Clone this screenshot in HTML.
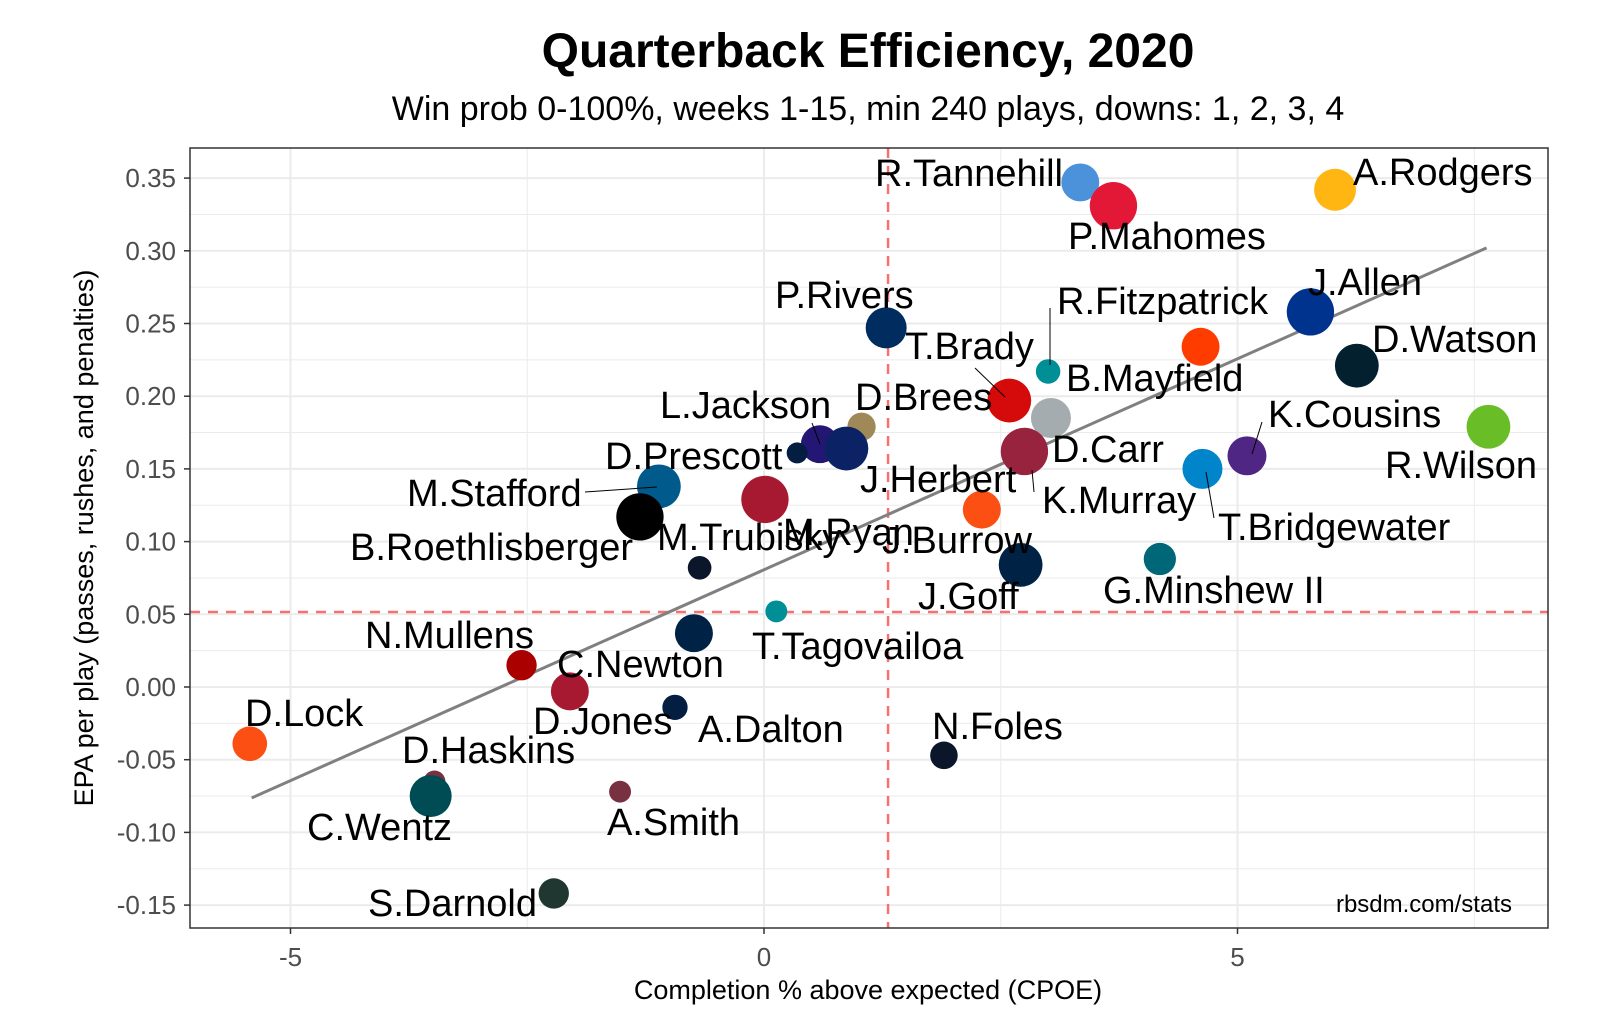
<!DOCTYPE html>
<html><head><meta charset="utf-8"><style>
html,body{margin:0;padding:0;background:#fff;}
svg{display:block;font-family:"Liberation Sans",sans-serif;}
</style></head><body>
<svg id="chart" width="1600" height="1033" viewBox="0 0 1600 1033">
<text x="868" y="67" text-anchor="middle" font-size="48" font-weight="bold" fill="#000">Quarterback Efficiency, 2020</text>
<text x="868" y="120" text-anchor="middle" font-size="34" fill="#000">Win prob 0-100%, weeks 1-15, min 240 plays, downs: 1, 2, 3, 4</text>
<g id="grid"></g>
<g id="refs"></g>
<g id="marks"></g>
<g id="labels"></g>
<rect x="190" y="148" width="1358" height="780" fill="none" stroke="#333" stroke-width="1.5"/>
<g id="axes"></g>
<text x="1512" y="912" text-anchor="end" font-size="24" fill="#000">rbsdm.com/stats</text>
<text x="868" y="999" text-anchor="middle" font-size="27" fill="#000">Completion % above expected (CPOE)</text>
<text transform="translate(93,538) rotate(-90)" text-anchor="middle" font-size="27" fill="#000">EPA per play (passes, rushes, and penalties)</text>
</svg>
<script>
const players=["R.Tannehill","P.Mahomes","A.Rodgers","J.Allen","D.Watson","B.Mayfield","R.Fitzpatrick","T.Brady","P.Rivers","D.Carr","K.Murray","D.Brees","L.Jackson","M.Ryan2","D.Prescott","B.Roethlisberger","M.Ryan","J.Burrow","J.Goff","G.Minshew II","T.Bridgewater","K.Cousins","R.Wilson","M.Trubisky","T.Tagovailoa","C.Newton","N.Mullens","D.Jones","A.Dalton","D.Lock","N.Foles","D.Haskins","C.Wentz","A.Smith","S.Darnold","J.Herbert"];
const cpoe=[3.34,3.69,6.03,5.77,6.26,4.61,3.0,2.59,1.29,3.03,2.75,1.03,0.59,0.87,-1.11,-1.31,0.01,2.3,2.71,4.18,4.63,5.10,7.65,-0.68,0.13,-0.74,-2.56,-2.05,-0.94,-5.43,1.90,-3.48,-3.52,-1.52,-2.22,0.35];
const epa=[0.347,0.331,0.342,0.258,0.221,0.234,0.217,0.197,0.247,0.185,0.162,0.179,0.167,0.164,0.138,0.117,0.129,0.122,0.084,0.088,0.150,0.159,0.179,0.082,0.052,0.037,0.015,-0.003,-0.014,-0.039,-0.047,-0.065,-0.075,-0.072,-0.142,0.161];
const plays=[360,560,440,560,480,360,150,480,420,400,560,200,360,480,480,560,560,360,480,260,400,380,480,140,120,360,230,360,160,300,190,120,440,120,230,110];
const colors=["#4b92db","#e31837","#ffb612","#00338d","#03202f","#ff3c00","#008e97","#d50a0a","#002c5f","#a5acaf","#97233f","#9f8958","#241773","#0b2265","#005a8b","#000000","#a71930","#fb4f14","#002244","#006778","#0085ca","#4f2683","#69be28","#0b162a","#008e97","#002244","#aa0000","#a71930","#041e42","#fb4f14","#0b162a","#773141","#004c54","#773141","#203731","#041e42"];
const xTicks=[-5,0,5];
const yTicks=[-0.15,-0.10,-0.05,0.00,0.05,0.10,0.15,0.20,0.25,0.30,0.35];
const yTickLabels=["-0.15","-0.10","-0.05","0.00","0.05","0.10","0.15","0.20","0.25","0.30","0.35"];
const meanCpoe=[1.31];
const meanEpa=[0.0516];
const fitX=[-5.41,7.63];
const fitY=[-0.0763,0.302];
const labelText=["R.Tannehill","P.Mahomes","A.Rodgers","J.Allen","D.Watson","R.Fitzpatrick","B.Mayfield","T.Brady","P.Rivers","D.Brees","L.Jackson","D.Prescott","M.Stafford","B.Roethlisberger","M.Trubisky","M.Ryan","J.Herbert","J.Burrow","J.Goff","D.Carr","K.Murray","K.Cousins","R.Wilson","T.Bridgewater","G.Minshew II","T.Tagovailoa","N.Mullens","C.Newton","D.Lock","D.Jones","A.Dalton","N.Foles","D.Haskins","C.Wentz","A.Smith","S.Darnold"];
const labelPos=[[875,186],[1068,249],[1353,185],[1308,295],[1372,352],[1057,314],[1066,391],[905,359],[775,308],[855,410],[660,418],[605,469],[407,506],[350,560],[657,550],[783,545],[860,492],[882,553],[918,609],[1052,462],[1042,513],[1268,427],[1385,478],[1218,540],[1103,603],[752,659],[365,648],[557,677],[245,726],[533,734],[698,742],[932,739],[402,763],[307,840],[607,835],[368,916]];
const leaders=[[585,492,657,487],[812,423,820,444],[975,368,1005,397],[1050,308,1050,365],[1032,470,1034,492],[1206,472,1214,518],[1262,422,1252,454]];
const NS="http://www.w3.org/2000/svg";
const X0=190,X1=1548,Y0=148,Y1=928;
function sx(v){return 764+94.7*v;}
function sy(v){return 687-1454*v;}
function mk(tag,attrs,parent){const e=document.createElementNS(NS,tag);for(const k in attrs)e.setAttribute(k,attrs[k]);parent.appendChild(e);return e;}
const grid=document.getElementById('grid');
const panel=mk('rect',{x:X0,y:Y0,width:X1-X0,height:Y1-Y0,fill:'#fff'},grid);


for(let v=-7.5;v<=10;v+=2.5){const px=sx(v);if(px<X0||px>X1)continue;const major=Math.abs(v%5)<1e-6;const l=mk('line',{x1:px,x2:px,y1:Y0,y2:Y1,stroke:'#ebebeb','stroke-width':major?2:1},grid);

}
for(let i=-8;i<=16;i++){const v=i*0.025;const py=sy(v);if(py<Y0||py>Y1)continue;const major=i%2===0;const l=mk('line',{x1:X0,x2:X1,y1:py,y2:py,stroke:'#ebebeb','stroke-width':major?2:1},grid);

}
const refs=document.getElementById('refs');
const vl=mk('line',{x1:sx(meanCpoe[0]),x2:sx(meanCpoe[0]),y1:Y0,y2:Y1,stroke:'#f87171','stroke-width':2.5,'stroke-dasharray':'10,8'},refs);


const hl=mk('line',{x1:X0,x2:X1,y1:sy(meanEpa[0]),y2:sy(meanEpa[0]),stroke:'#f87171','stroke-width':2.5,'stroke-dasharray':'10,8'},refs);


const fl=mk('line',{x1:sx(fitX[0]),y1:sy(fitY[0]),x2:sx(fitX[1]),y2:sy(fitY[1]),stroke:'#808080','stroke-width':3},refs);


const marks=document.getElementById('marks');
for(let i=0;i<players.length;i++){const r=Math.sqrt(plays[i])*1.0;const c=mk('circle',{cx:sx(cpoe[i]),cy:sy(epa[i]),r:r,fill:colors[i]},marks);


const t=mk('title',{},c);t.textContent=players[i];}
const lab=document.getElementById('labels');
for(const L of leaders){const l=mk('line',{x1:L[0],y1:L[1],x2:L[2],y2:L[3],stroke:'#000','stroke-width':1},lab);

}
for(let i=0;i<labelText.length;i++){const t=mk('text',{x:labelPos[i][0],y:labelPos[i][1],'font-size':38,fill:'#000'},lab);t.textContent=labelText[i];

}
const axes=document.getElementById('axes');
for(const v of xTicks){const px=sx(v);mk('line',{x1:px,x2:px,y1:Y1,y2:Y1+6,stroke:'#333','stroke-width':1.5},axes);
const t=mk('text',{x:px,y:Y1+38,'text-anchor':'middle','font-size':26,fill:'#4d4d4d'},axes);t.textContent=String(v);

}
for(let i=0;i<yTicks.length;i++){const py=sy(yTicks[i]);mk('line',{x1:X0-6,x2:X0,y1:py,y2:py,stroke:'#333','stroke-width':1.5},axes);
const t=mk('text',{x:X0-14,y:py+9,'text-anchor':'end','font-size':26,fill:'#4d4d4d'},axes);t.textContent=yTickLabels[i];

}
</script>
</body></html>
